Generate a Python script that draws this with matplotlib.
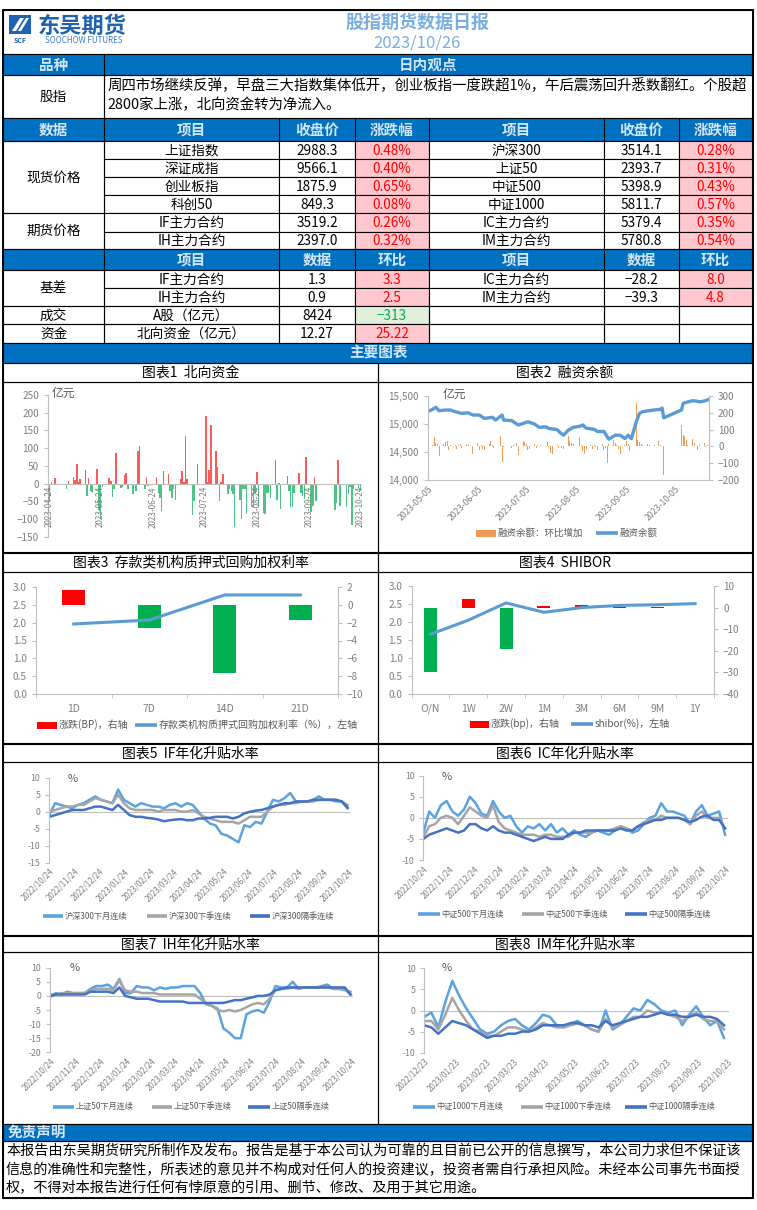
import matplotlib
matplotlib.use('Agg')
import matplotlib.pyplot as plt
from matplotlib.patches import Rectangle, Polygon
from matplotlib.ticker import FuncFormatter
import pandas as pd
import numpy as np

plt.rcParams['font.family'] = ['Noto Sans CJK SC', 'DejaVu Sans']

W, H = 757, 1210
BLUE = '#0070C0'
HDR = '#D3E5F6'
GRID = '#BFBFBF'
TICK = '#7F7F7F'
LEG = '#595959'
RED_BG, RED_TX = '#FFC7CE', '#FF0000'
GRN_BG, GRN_TX = '#E2EFDA', '#00B050'
C_LIGHT, C_GRAY, C_DARK = '#5AA2E0', '#A5A5A5', '#4472C4'

''' ---- data ---- '''
view_text = ['周四市场继续反弹，早盘三大指数集体低开，创业板指一度跌超1%，午后震荡回升悉数翻红。个股超',
             '2800家上涨，北向资金转为净流入。']

spot_left = [('上证指数', '2988.3', '0.48%'), ('深证成指', '9566.1', '0.40%'),
             ('创业板指', '1875.9', '0.65%'), ('科创50', '849.3', '0.08%')]
spot_right = [('沪深300', '3514.1', '0.28%'), ('上证50', '2393.7', '0.31%'),
              ('中证500', '5398.9', '0.43%'), ('中证1000', '5811.7', '0.57%')]
fut_left = [('IF主力合约', '3519.2', '0.26%'), ('IH主力合约', '2397.0', '0.32%')]
fut_right = [('IC主力合约', '5379.4', '0.35%'), ('IM主力合约', '5780.8', '0.54%')]
basis_left = [('IF主力合约', '1.3', '3.3'), ('IH主力合约', '0.9', '2.5')]
basis_right = [('IC主力合约', '\u221228.2', '8.0'), ('IM主力合约', '\u221239.3', '4.8')]
turnover = ('A股（亿元）', '8424', '\u2212313')
northbound = ('北向资金（亿元）', '12.27', '25.22')

# chart 1: northbound daily net flow (亿元)
nb_flow = [('2023-04-24', -52), ('2023-04-25', 5), ('2023-04-27', 15), ('2023-05-04', -15),
           ('2023-05-05', 7), ('2023-05-08', 20), ('2023-05-09', 10), ('2023-05-10', 55),
           ('2023-05-11', 5), ('2023-05-12', 13), ('2023-05-15', 40), ('2023-05-16', -35),
           ('2023-05-17', 15), ('2023-05-18', -20), ('2023-05-19', -22), ('2023-05-22', 42),
           ('2023-05-23', -75), ('2023-05-24', -100), ('2023-05-25', -10), ('2023-05-29', 15),
           ('2023-05-30', 8), ('2023-05-31', -37), ('2023-06-01', -15), ('2023-06-02', 87),
           ('2023-06-05', -12), ('2023-06-06', -10), ('2023-06-07', 25), ('2023-06-08', 30),
           ('2023-06-09', -15), ('2023-06-12', -30), ('2023-06-14', -20), ('2023-06-15', 92),
           ('2023-06-16', 105), ('2023-06-19', -15), ('2023-06-20', 18), ('2023-06-21', -5),
           ('2023-06-26', 20), ('2023-06-27', -25), ('2023-06-28', -40), ('2023-06-29', -77),
           ('2023-06-30', 35), ('2023-07-03', 27), ('2023-07-04', -20), ('2023-07-05', -40),
           ('2023-07-06', -15), ('2023-07-07', -45), ('2023-07-10', 12), ('2023-07-11', 35),
           ('2023-07-12', 5), ('2023-07-13', 135), ('2023-07-14', 12), ('2023-07-17', -88),
           ('2023-07-18', -50), ('2023-07-20', 57), ('2023-07-25', 190), ('2023-07-26', 5),
           ('2023-07-27', 38), ('2023-07-28', 165), ('2023-07-31', 93), ('2023-08-01', 48),
           ('2023-08-02', -50), ('2023-08-03', 5), ('2023-08-04', 27), ('2023-08-07', -28),
           ('2023-08-08', -15), ('2023-08-09', -20), ('2023-08-10', -30), ('2023-08-11', -122),
           ('2023-08-14', -47), ('2023-08-15', -98), ('2023-08-16', -15), ('2023-08-17', -15),
           ('2023-08-18', -85), ('2023-08-21', -65), ('2023-08-22', -65), ('2023-08-23', -25),
           ('2023-08-24', 32), ('2023-08-25', -65), ('2023-08-28', -83), ('2023-08-29', -85),
           ('2023-08-30', -25), ('2023-08-31', -25), ('2023-09-01', -40), ('2023-09-04', 68),
           ('2023-09-05', -45), ('2023-09-06', 3), ('2023-09-07', -70), ('2023-09-11', 23),
           ('2023-09-12', -20), ('2023-09-13', -65), ('2023-09-14', -65), ('2023-09-15', -25),
           ('2023-09-18', 30), ('2023-09-19', -25), ('2023-09-20', -35), ('2023-09-21', -42),
           ('2023-09-22', 75), ('2023-09-25', -80), ('2023-09-26', -62), ('2023-09-27', 18),
           ('2023-09-28', -50), ('2023-10-09', -75), ('2023-10-10', -55), ('2023-10-11', 67),
           ('2023-10-12', -63), ('2023-10-16', -65), ('2023-10-17', -30), ('2023-10-18', -10),
           ('2023-10-19', -115), ('2023-10-20', -15), ('2023-10-23', -12), ('2023-10-24', -20)]
nb_labels = ['2023-04-24', '2023-05-24', '2023-06-24', '2023-07-24', '2023-08-24', '2023-09-24', '2023-10-24']

# chart 2: margin balance (亿元) and daily change
margin_line = [('2023-05-05', 15220), ('2023-05-08', 15262), ('2023-05-10', 15298), ('2023-05-12', 15238),
               ('2023-05-16', 15250), ('2023-05-19', 15250), ('2023-05-22', 15220), ('2023-05-26', 15190),
               ('2023-05-30', 15200), ('2023-06-02', 15160), ('2023-06-06', 15160), ('2023-06-09', 15100),
               ('2023-06-14', 15120), ('2023-06-16', 15070), ('2023-06-20', 15160), ('2023-06-21', 15070),
               ('2023-06-26', 15060), ('2023-06-30', 14982), ('2023-07-03', 15010), ('2023-07-06', 15040),
               ('2023-07-10', 15000), ('2023-07-13', 14940), ('2023-07-17', 14950), ('2023-07-19', 14920),
               ('2023-07-24', 14900), ('2023-07-26', 14845), ('2023-07-28', 14800), ('2023-07-31', 14890),
               ('2023-08-03', 14940), ('2023-08-07', 14960), ('2023-08-09', 14982), ('2023-08-11', 14925),
               ('2023-08-16', 14905), ('2023-08-18', 14866), ('2023-08-22', 14866), ('2023-08-25', 14730),
               ('2023-08-29', 14800), ('2023-09-01', 14800), ('2023-09-04', 14740), ('2023-09-06', 14800),
               ('2023-09-08', 14740), ('2023-09-11', 15040), ('2023-09-13', 15190), ('2023-09-15', 15220),
               ('2023-09-19', 15238), ('2023-09-22', 15250), ('2023-09-26', 15262), ('2023-09-27', 15285),
               ('2023-09-28', 15110), ('2023-10-09', 15250), ('2023-10-10', 15369), ('2023-10-12', 15387),
               ('2023-10-16', 15417), ('2023-10-19', 15405), ('2023-10-20', 15395), ('2023-10-23', 15410),
               ('2023-10-26', 15440)]
margin_chg_may = [-28, 10, 58, 18, 12, -55, 15, 25, 30, -20, 10, 10, -15, 10, 15, -10, 15, 10, 5]
margin_chg_jun = [5, -45, 20, -20, 10, -15, -20, 15, 35, 10, -10, 5, 60, -90, -5, -10, 10, -20, 20, -50]
margin_chg_jul = [30, 25, 15, -20, -15, 15, -10, 10, 5, 10, 5, 25, -5, -40, -45, 10, -10, 5, -10, -15, 60]
margin_chg_aug = [30, 20, 15, 5, 55, 10, -30, -45, -15, 10, -15, 10, -5, -20, 15, -20, -10, -97, 15, 40, 20, 10, -15]
margin_chg_sep = [-45, 10, 35, 15, -25, 5, 260, 40, 25, 15, 10, 15, 10, 5, 5, 10, 30, 10, 5, -170]
margin_chg_oct = [127, 70, 60, 40, 10, 45, 20, 5, -20, 10, 20, -5, 10, 5]
holidays = ['2023-06-22', '2023-06-23', '2023-09-29', '2023-10-02', '2023-10-03',
            '2023-10-04', '2023-10-05', '2023-10-06']
margin_labels = ['2023-05-05', '2023-06-05', '2023-07-05', '2023-08-05', '2023-09-05', '2023-10-05']

# chart 3: repo rates
repo_terms = ['1D', '7D', '14D', '21D']
repo_rate = [1.96, 2.07, 2.77, 2.77]
repo_chg = [1.6, -2.6, -7.6, -1.7]

# chart 4: shibor
shibor_terms = ['O/N', '1W', '2W', '1M', '3M', '6M', '9M', '1Y']
shibor_rate = [1.66, 2.05, 2.53, 2.27, 2.40, 2.46, 2.48, 2.51]
shibor_chg = [-29.8, 4.1, -19.2, 0.6, 1.2, 0.5, 0.5, 0.0]

# charts 5-7: weekly readings from 2022/10/24; chart 8 from 2022/12/23 (%)
if_next_month = [-1, 2.5, 2, 1.5, 1, 2, 2.5, 3.5, 4.5, 3.5, 3, 2.5, 6.5, 3.5, 2.5, 1.5, 2.5, 2, 1.5, 1.5,
                 1, 2, 2.5, 1.5, 2.5, 2, 0, -2, -3.5, -4, -6.5, -7, -8, -9, -4, -4.5, -3, -3.5, 0, 3.5,
                 3, 4, 5.5, 3, 3, 3, 3.5, 4.5, 3.5, 3.5, 3, 3, 1]
if_next_quarter = [0, 0.5, 1, 1.5, 1.5, 2, 2, 3, 4, 3.5, 3, 2.5, 5, 2.5, 1, 0.5, 0.5, 0.5, 0.5, 0,
                   0.5, 0.5, 0.5, 0, 0, 0.5, -0.5, -1.5, -2, -2.5, -3, -3, -3, -3.5, -2.5, -1.5, -1.5, -1.5, 0, 1.5,
                   2, 2, 2.5, 2.5, 3, 3, 3, 3.5, 3.5, 3.5, 3.5, 3, 2]
if_far_quarter = [-1.5, -1, -0.5, 0, 0.5, 0.5, 0.5, 1, 1.5, 1.5, 1, 0.5, 2, 0.5, -1, -1.5, -1.5, -1.8, -2, -2.3,
                  -2.8, -2.5, -2.3, -2.2, -2.5, -2.5, -2, -2, -1.8, -1.5, -1.5, -1.5, -2, -1.5, -0.5, 0, 0.3, 0.5, 1, 1.5,
                  2, 2.5, 2.5, 3, 3, 3, 3.5, 3.5, 3.5, 3.5, 3.5, 3, 1.2]

ic_next_month = [-3.5, 1.5, 0, 3, 4, 1.5, 0.5, 2, 5, 3.5, 1, 0.5, 4, 1.5, 0, 0.5, -2, -3.5, -2, -2.5,
                 -1.5, -3, -1.5, -3.5, -2.5, -4, -3, -4, -4.5, -3.5, -3, -3.5, -4, -3, -2, -2.5, -3.5, -3, -1.5, 0,
                 0.5, 3.5, 1.5, 1.5, 1, 0.5, -1.5, 1.5, 3, 0.5, 1, 1.5, -4]
ic_next_quarter = [-4.5, -2, -1.5, 0, 0.5, 0, -1.5, 0.5, 2.5, 1.5, 0.5, 0, 3, -1, -2.5, -3, -3.5, -4, -4, -4,
                   -4.5, -4, -4, -4.5, -4.5, -4.5, -3.5, -3.5, -3.5, -3.5, -3, -3, -3, -2.5, -2, -2.5, -3, -2, -1, -0.5,
                   -0.5, 0.5, 0, 0, 0, -0.5, -1.5, 0.5, 1.5, 0, 0, 0, -2.5]
ic_far_quarter = [-5, -4, -3.5, -3, -2.5, -3, -3.5, -3, -1.5, -1.5, -2.5, -3, -2, -3, -3.5, -3.5, -4, -4.5, -5, -5.5,
                  -5, -4.5, -5, -5, -5, -4, -3.5, -3.5, -3, -3, -3, -3, -3, -3, -2.5, -3, -3, -2, -1.5, -1,
                  -0.5, -0.5, 0, 0, 0, -0.5, -1, -0.5, 0.3, 0.5, -0.5, -0.5, -2.5]

ih_next_month = [-0.5, 1, 0.5, 1.5, 1, 1, 1, 2.5, 3.5, 3.5, 4, 2.5, 6, 1, 1, 3.5, 3, 3, 2, 3,
                 2.5, 3, 3, 3.5, 3.5, 3.5, 1, -3, -3.5, -4.5, -11.5, -13, -15, -15, -6.5, -5.5, -5, -6, -2, 3.5,
                 3, 3, 5, 2.5, 3, 3, 3, 3.5, 4, 2.5, 2.5, 2.5, 0.5]
ih_next_quarter = [0.5, 0.5, 1, 1, 1, 1, 1, 2, 2.5, 2.5, 2.5, 2, 5.5, 2, 1.5, 1.5, 1, 1, 1, 0.5,
                   0.5, 0.5, 0.5, 0.5, 0.5, 0.5, -1, -2.5, -3.5, -5, -5.5, -5, -5.5, -5, -4, -3, -2.5, -3, -1, 2,
                   2.5, 2.5, 3, 2.5, 3, 3, 3, 3, 3, 2.5, 2.5, 2, 1.5]
ih_far_quarter = [0, 0.5, 0.5, 0.5, 0.5, 0.5, 0.5, 1.5, 1.5, 1.5, 1.5, 1, 3, 0, -0.5, -1, -1, -1, -1.5, -2,
                  -2, -2, -2, -2, -2.5, -2.5, -2.5, -2.5, -2.5, -2.5, -2.5, -2, -1.5, -1.5, -1, -0.5, 0, 0, 0.5, 2,
                  2.5, 3, 3, 3, 3, 3, 3, 3, 3, 3, 3, 3, 0.5]

im_next_month = [-1.5, -0.5, -4, 2, 7, 3.5, 0.5, -2, -4.5, -5.5, -5, -3.5, -2.5, -2, -3.5, -4.5, -3, -1, -1.5, -3.5,
                 -4, -3, -2.5, -3.5, -4.5, -5, 0, -4.5, -3.5, -1.5, 0.5, 0, 2.5, 1.5, 0, -0.5, 0, -3.5, -1, 1,
                 -1.5, -3.5, -2.5, -6.5]
im_next_quarter = [-2.5, -2.5, -4.5, -1, 3, 0, -2.5, -4.5, -5, -6, -6, -5, -4, -4, -4.5, -5, -4, -3, -3.5, -4,
                   -4, -3.5, -3, -3.5, -4.5, -5, -2, -4, -3.5, -2.5, -1.5, -1.5, 0, -0.5, -0.5, -1, -1.5, -2.5, -1.5, -0.5,
                   -2, -2.5, -2.5, -4.5]
im_far_quarter = [-3.5, -4, -5.5, -4, -2.5, -3, -3.5, -4.5, -5.5, -6.5, -6, -6, -5.5, -5.5, -5, -5, -4.5, -3.5, -3.5, -3.5,
                  -3.5, -3, -3, -3.5, -3.5, -4, -2.5, -3.5, -3, -2.5, -2, -1.5, -1.5, -1, -0.5, -1, -1, -1.5, -1.5, -1,
                  -1.5, -1.5, -2, -3.5]

disclaimer = ['本报告由东吴期货研究所制作及发布。报告是基于本公司认为可靠的且目前已公开的信息撰写，本公司力求但不保证该',
              '信息的准确性和完整性，所表述的意见并不构成对任何人的投资建议，投资者需自行承担风险。未经本公司事先书面授',
              '权，不得对本报告进行任何有悖原意的引用、删节、修改、及用于其它用途。']

''' ---- helpers ---- '''
fig = plt.figure(figsize=(W / 100, H / 100), dpi=100)
bg = fig.add_axes([0, 0, 1, 1])
bg.set_xlim(0, W)
bg.set_ylim(H, 0)
bg.axis('off')


def px_axes(x0, y0, x1, y1):
    return fig.add_axes([x0 / W, 1 - y1 / H, (x1 - x0) / W, (y1 - y0) / H], facecolor='none')


def box(x0, y0, x1, y1, fc='none', lw=0.8, ec='black'):
    bg.add_patch(Rectangle((x0, y0), x1 - x0, y1 - y0, facecolor=fc, edgecolor=ec, lw=lw))


def txt(x, y, s, size=9.8, color='black', ha='center', weight='normal'):
    bg.text(x, y, s, ha=ha, va='center', fontsize=size, color=color, fontweight=weight)


def band(y0, y1):
    bg.add_patch(Rectangle((3, y0), 749, y1 - y0, facecolor=BLUE, edgecolor='black', lw=0.8))


def leg_line(x0, x1, y, color, label, size=7.2):
    bg.plot([x0, x1], [y, y], color=color, lw=2.6, solid_capstyle='butt')
    txt(x1 + 1.5, y, label, size=size, color=LEG, ha='left')


def leg_rect(x0, x1, y, color, label, size=7.2):
    bg.add_patch(Rectangle((x0, y - 3.5), x1 - x0, 7, facecolor=color, edgecolor='none'))
    txt(x1 + 1.5, y, label, size=size, color=LEG, ha='left')


def gray_spines(ax, keep, size=7.2):
    for s in ['top', 'right', 'bottom', 'left']:
        if s in keep:
            ax.spines[s].set_color(GRID)
            ax.spines[s].set_linewidth(0.8)
        else:
            ax.spines[s].set_visible(False)
    ax.tick_params(colors=GRID, labelcolor=TICK, labelsize=size, length=3, width=0.8)


''' ---- header ---- '''
box(3, 10, 753, 1198, lw=1.4)
box(3, 10, 753, 54)
# logo
bg.add_patch(Rectangle((9, 15), 22, 19, facecolor='#1F63B0', edgecolor='none'))
bg.add_patch(Polygon([[12, 31], [20, 18], [24, 18], [16, 31]], facecolor='white', edgecolor='none'))
bg.add_patch(Polygon([[18, 31], [26, 18], [29, 18], [21, 31]], facecolor='white', edgecolor='none'))
txt(82, 26, '东吴期货', size=16, color='#1F63B0', weight='bold')
txt(20, 40.5, 'SCF', size=5, color='#1F63B0', weight='bold')
txt(84, 40.5, 'SOOCHOW FUTURES', size=5.8, color='#3C7CC2')
txt(417, 22, '股指期货数据日报', size=13, color='#78AEE0', weight='bold')
txt(417, 43.5, '2023/10/26', size=12, color='#78AEE0')

cols = [3, 104, 279, 355, 429, 604, 679, 752]
cx = [(cols[i] + cols[i + 1]) / 2 for i in range(7)]

band(54, 75)
bg.plot([104, 104], [54, 75], color='black', lw=0.8)
txt(cx[0], 64.5, '品种', size=10.5, color=HDR, weight='bold')
txt(428, 64.5, '日内观点', size=10.5, color=HDR, weight='bold')
box(3, 75, 104, 118)
box(104, 75, 752, 118)
txt(cx[0], 96.5, '股指')
txt(107, 86, view_text[0], ha='left', size=10.4)
txt(107, 104.5, view_text[1], ha='left', size=10.4)

# table
rows = [141, 159.3, 177.3, 195.3, 213.3, 231.7, 249.3]
band(118, 141)
for i, h in enumerate(['数据', '项目', '收盘价', '涨跌幅', '项目', '收盘价', '涨跌幅']):
    txt(cx[i], 130, h, size=10.5, color=HDR, weight='bold')
for c in cols[1:-1]:
    bg.plot([c, c], [118, 141], color='black', lw=0.8)

table_rows = [a + b for a, b in zip(spot_left + fut_left, spot_right + fut_right)]
for r, vals in enumerate(table_rows):
    y0, y1 = rows[r], rows[r + 1]
    for i in range(6):
        fc = RED_BG if i in (2, 5) else 'white'
        box(cols[i + 1], y0, cols[i + 2], y1, fc=fc)
        txt(cx[i + 1], (y0 + y1) / 2 + 0.5, vals[i], color=RED_TX if i in (2, 5) else 'black')
box(3, 141, 104, 213.3)
txt(cx[0], 177.3, '现货价格')
box(3, 213.3, 104, 249.3)
txt(cx[0], 231.3, '期货价格')

band(249.3, 270)
for i, h in enumerate(['', '项目', '数据', '环比', '项目', '数据', '环比']):
    txt(cx[i], 259.6, h, size=10.5, color=HDR, weight='bold')
for c in cols[1:-1]:
    bg.plot([c, c], [249.3, 270], color='black', lw=0.8)

rows2 = [270, 288.3, 306, 324.3, 342.7]
for r, vals in enumerate([a + b for a, b in zip(basis_left, basis_right)]):
    y0, y1 = rows2[r], rows2[r + 1]
    for i in range(6):
        fc = RED_BG if i in (2, 5) else 'white'
        box(cols[i + 1], y0, cols[i + 2], y1, fc=fc)
        txt(cx[i + 1], (y0 + y1) / 2 + 0.5, vals[i], color=RED_TX if i in (2, 5) else 'black')
box(3, 270, 104, 306)
txt(cx[0], 288, '基差')
for r, (name, vals, fc, tc) in enumerate([('成交', turnover, GRN_BG, GRN_TX), ('资金', northbound, RED_BG, RED_TX)]):
    y0, y1 = rows2[r + 2], rows2[r + 3]
    box(3, y0, 104, y1)
    txt(cx[0], (y0 + y1) / 2 + 0.5, name)
    box(cols[1], y0, cols[2], y1)
    txt(cx[1], (y0 + y1) / 2 + 0.5, vals[0])
    box(cols[2], y0, cols[3], y1)
    txt(cx[2], (y0 + y1) / 2 + 0.5, vals[1])
    box(cols[3], y0, cols[4], y1, fc=fc)
    txt(cx[3], (y0 + y1) / 2 + 0.5, vals[2], color=tc)
    for i in range(4, 7):
        box(cols[i], y0, cols[i + 1], y1)

band(342.7, 363)
txt(378, 353, '主要图表', size=10.5, color=HDR, weight='bold')

# chart panels
panel_rows = [(363, 382, 551.5), (552.5, 572, 742.5), (743.5, 762, 934.5), (935.5, 952, 1124)]
titles = [('图表1  北向资金', '图表2  融资余额'), ('图表3  存款类机构质押式回购加权利率', '图表4  SHIBOR'),
          ('图表5  IF年化升贴水率', '图表6  IC年化升贴水率'), ('图表7  IH年化升贴水率', '图表8  IM年化升贴水率')]
for (t0, t1, b), (tl, tr) in zip(panel_rows, titles):
    box(3, t0, 378, t1)
    box(378, t0, 752, t1)
    box(3, t1, 378, b)
    box(378, t1, 752, b)
    txt(190.5, (t0 + t1) / 2 + 0.5, tl, size=10)
    txt(565, (t0 + t1) / 2 + 0.5, tr, size=10)

band(1124, 1141)
txt(8, 1132.5, '免责声明', size=10.5, color=HDR, ha='left', weight='bold')
box(3, 1141, 752, 1197.5)
for i, line in enumerate(disclaimer):
    txt(6, 1151.5 + i * 18.5, line, size=10.2, ha='left')

''' ---- chart 1 ---- '''
ax1 = px_axes(48, 395, 362, 537)
d1 = pd.to_datetime([d for d, v in nb_flow])
v1 = [v for d, v in nb_flow]
ax1.bar(d1, v1, width=0.9, color=['#FF5A5A' if v > 0 else '#4CC483' for v in v1])
ax1.axhline(0, color=GRID, lw=0.8)
ax1.set_ylim(-150, 250)
ax1.set_yticks(range(-150, 251, 50))
ax1.set_xlim(pd.Timestamp('2023-04-23'), pd.Timestamp('2023-10-25'))
ax1.set_xticks([])
gray_spines(ax1, ['left'])
for lab in nb_labels:
    ax1.text(pd.Timestamp(lab), -7, lab, rotation=90, ha='center', va='top', fontsize=5.8, color=TICK)
txt(52, 393, '亿元', size=8.5, color=LEG, ha='left')

''' ---- chart 2 ---- '''
ax2 = px_axes(427.7, 396, 709, 480)
ax2r = ax2.twinx()
tdays = pd.bdate_range('2023-05-05', '2023-10-26')
tdays = tdays[~tdays.isin(pd.to_datetime(holidays))]
chg = margin_chg_may + margin_chg_jun + margin_chg_jul + margin_chg_aug + margin_chg_sep + margin_chg_oct
ax2r.bar(tdays[:len(chg)], chg, width=0.6, color='#F29B56')
ax2.plot(pd.to_datetime([d for d, v in margin_line]), [v for d, v in margin_line], color='#5B9BD5', lw=2.4)
ax2.set_zorder(ax2r.get_zorder() + 1)
ax2.patch.set_visible(False)
ax2.set_ylim(14000, 15500)
ax2.set_yticks([14000, 14500, 15000, 15500])
ax2.yaxis.set_major_formatter(FuncFormatter(lambda v, p: '{:,.0f}'.format(v)))
ax2r.set_ylim(-200, 300)
ax2r.set_yticks(range(-200, 301, 100))
ax2.set_xlim(pd.Timestamp('2023-05-05'), pd.Timestamp('2023-10-26'))
ax2.set_xticks(pd.to_datetime(margin_labels))
ax2.set_xticklabels(margin_labels, rotation=45, ha='right', rotation_mode='anchor')
gray_spines(ax2, ['left', 'bottom'])
gray_spines(ax2r, ['right'])
ax2.spines['right'].set_visible(False)
ax2.tick_params(axis='x', length=0, pad=3, labelsize=6.3)
txt(443, 394, '亿元', size=8.5, color=LEG, ha='left')
leg_rect(476, 496, 533, '#F29B56', '融资余额：环比增加', size=6.8)
leg_line(596, 618, 533, '#5B9BD5', '融资余额', size=6.8)

''' ---- charts 3 and 4 ---- '''


def bar_line_chart(box_px, terms, rate, chg, bw, rlim, rstep):
    ax = px_axes(*box_px)
    axr = ax.twinx()
    x = np.arange(len(terms))
    axr.bar(x, chg, width=bw, color=[RED_TX if v > 0 else GRN_TX for v in chg])
    ax.plot(x, rate, color='#5B9BD5', lw=2.2)
    ax.set_zorder(axr.get_zorder() + 1)
    ax.patch.set_visible(False)
    ax.set_ylim(0, 3)
    ax.set_yticks(np.arange(0, 3.01, 0.5))
    ax.yaxis.set_major_formatter(FuncFormatter(lambda v, p: '%.1f' % v))
    axr.set_ylim(*rlim)
    axr.set_yticks(range(rlim[0], rlim[1] + 1, rstep))
    ax.set_xlim(-0.5, len(terms) - 0.5)
    ax.set_xticks(x)
    ax.set_xticklabels(terms)
    ax.set_xticks(np.arange(-0.5, len(terms)), minor=True)
    gray_spines(ax, ['left', 'bottom'])
    gray_spines(axr, ['right'])
    ax.spines['right'].set_visible(False)
    ax.tick_params(axis='x', which='major', length=0, pad=7, labelsize=7.5)
    ax.tick_params(axis='x', which='minor', length=3, color=GRID)
    return ax


bar_line_chart((36, 586.7, 338, 694.3), repo_terms, repo_rate, repo_chg, 0.31, (-10, 2), 2)
leg_rect(37, 57, 725, RED_TX, '涨跌(BP)，右轴')
leg_line(135, 157, 725, '#5B9BD5', '存款类机构质押式回购加权利率（%），左轴')
bar_line_chart((411.6, 586, 714, 694), shibor_terms, shibor_rate, shibor_chg, 0.34, (-40, 10), 10)
leg_rect(470, 489, 724, RED_TX, '涨跌(bp)，右轴')
leg_line(571, 593, 724, '#5B9BD5', 'shibor(%)，左轴')

''' ---- charts 5-8 ---- '''


def basis_chart(box_px, start, n, s1, s2, s3, ylim, ystep, end):
    ax = px_axes(*box_px)
    dates = pd.date_range(start, periods=n, freq='7D')
    ax.axhline(0, color=GRID, lw=0.8)
    ax.plot(dates, s1, color=C_LIGHT, lw=1.8)
    ax.plot(dates, s2, color=C_GRAY, lw=1.8)
    ax.plot(dates, s3, color=C_DARK, lw=1.8)
    ax.set_ylim(*ylim)
    ax.set_yticks(range(ylim[0], ylim[1] + 1, ystep))
    ax.yaxis.set_major_formatter(FuncFormatter(lambda v, p: '%d' % v))
    ticks = pd.date_range(start, end, freq=pd.DateOffset(months=1))
    ax.set_xlim(pd.Timestamp(start), pd.Timestamp(end) + pd.Timedelta(days=2))
    ax.set_xticks(ticks)
    ax.set_xticklabels([t.strftime('%Y/%m/%d') for t in ticks], rotation=45, ha='right',
                       rotation_mode='anchor')
    gray_spines(ax, ['left'], size=6.3)
    ax.tick_params(axis='x', length=0, pad=3, labelsize=5.8)
    return ax


LS = 5.9  # legend text size in the basis charts
basis_chart((49.3, 777.7, 350, 862.7), '2022-10-24', 53, if_next_month, if_next_quarter, if_far_quarter,
            (-15, 10), 5, '2023-10-24')
txt(67.7, 779, '%', size=8, color=LEG, ha='left')
leg_line(43, 63, 916, C_LIGHT, '沪深300下月连续', LS)
leg_line(147, 167, 916, C_GRAY, '沪深300下季连续', LS)
leg_line(250, 270, 916, C_DARK, '沪深300隔季连续', LS)

basis_chart((423.4, 775.7, 727.5, 860), '2022-10-24', 53, ic_next_month, ic_next_quarter, ic_far_quarter,
            (-10, 10), 5, '2023-10-24')
txt(441.8, 776.7, '%', size=8, color=LEG, ha='left')
leg_line(418, 440, 914, C_LIGHT, '中证500下月连续', LS)
leg_line(522, 544, 914, C_GRAY, '中证500下季连续', LS)
leg_line(625, 647, 914, C_DARK, '中证500隔季连续', LS)

basis_chart((50, 967.7, 353, 1052.3), '2022-10-24', 53, ih_next_month, ih_next_quarter, ih_far_quarter,
            (-20, 10), 5, '2023-10-24')
txt(70, 968, '%', size=8, color=LEG, ha='left')
leg_line(53, 74, 1106.5, C_LIGHT, '上证50下月连续', LS)
leg_line(152, 172, 1106.5, C_GRAY, '上证50下季连续', LS)
leg_line(248, 270, 1106.5, C_DARK, '上证50隔季连续', LS)

basis_chart((424.4, 968.3, 729, 1052.7), '2022-12-23', 44, im_next_month, im_next_quarter, im_far_quarter,
            (-10, 10), 5, '2023-10-23')
txt(441.8, 968, '%', size=8, color=LEG, ha='left')
leg_line(413, 435, 1106.5, C_LIGHT, '中证1000下月连续', LS)
leg_line(521, 543, 1106.5, C_GRAY, '中证1000下季连续', LS)
leg_line(625, 647, 1106.5, C_DARK, '中证1000隔季连续', LS)

fig.savefig('out.png', dpi=100)
